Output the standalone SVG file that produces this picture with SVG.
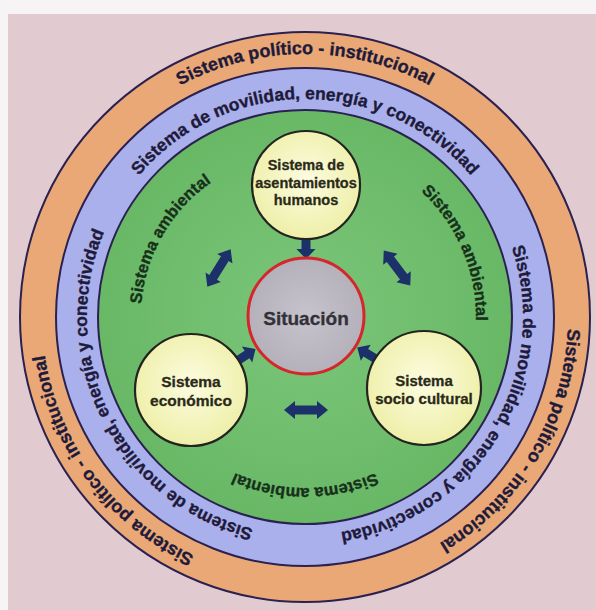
<svg xmlns="http://www.w3.org/2000/svg" width="596" height="610" viewBox="0 0 596 610">
<defs>
<style>
.ring{font-family:"Liberation Sans",Arial,sans-serif;font-weight:bold;fill:#1e1a3a;stroke:#1e1a3a;stroke-width:0.35}
.o{font-size:18px}
.b{font-size:17.5px}
.g{font-size:16.5px;fill:#17301a;stroke:#17301a}
.node{font-family:"Liberation Sans",Arial,sans-serif;font-weight:bold;fill:#2b2a18;stroke:#2b2a18;stroke-width:0.3;text-anchor:middle}
.arrow{fill:#1c306a}
.edge{stroke:#2a2150;stroke-width:2}
.yel{fill:url(#yel);stroke:#23231f;stroke-width:2.2}
</style>
<radialGradient id="yel" cx="50%" cy="45%" r="55%"><stop offset="0" stop-color="#fcfce0"/><stop offset="1" stop-color="#eeefa8"/></radialGradient>
<radialGradient id="grn" cx="50%" cy="50%" r="50%"><stop offset="0" stop-color="#7cc67a"/><stop offset="1" stop-color="#68b866"/></radialGradient>
<radialGradient id="gry" cx="50%" cy="50%" r="50%"><stop offset="0" stop-color="#c6c3cc"/><stop offset="1" stop-color="#b4b1bb"/></radialGradient>
<path id="pO" d="M305,580 A263,263 0 1 1 305,54 A263,263 0 1 1 305,580"/>
<path id="pB" d="M305,535 A218,218 0 1 1 305,99 A218,218 0 1 1 305,535"/>
<path id="pG" d="M305,153 A164,164 0 1 1 305,481 A164,164 0 1 1 305,153"/>
<path id="pG2" d="M305,146 A171,171 0 1 1 305,488 A171,171 0 1 1 305,146"/>
<path id="dbl" d="M-22,0 L-11,-9 L-11,-4.5 L11,-4.5 L11,-9 L22,0 L11,9 L11,4.5 L-11,4.5 L-11,9 Z"/>
<path id="sgl" d="M0,-4.5 L12,-4.5 L12,-9.5 L22,0 L12,9.5 L12,4.5 L0,4.5 Z"/>
</defs>
<rect x="0" y="0" width="596" height="610" fill="#f6f4f5"/>
<rect x="8" y="14" width="588" height="596" fill="#e1cbd1"/>
<g id="rings">
<circle class="edge" cx="305" cy="317" r="285" fill="#eaa876"/>
<circle class="edge" cx="305" cy="317" r="249" fill="#aab0ec"/>
<circle class="edge" cx="305" cy="317" r="207" fill="url(#grn)"/>
</g>
<g id="ring-labels" class="ring">
<text class="o" text-anchor="middle"><textPath href="#pO" startOffset="50%">Sistema político - institucional</textPath></text>
<text class="o" text-anchor="middle"><textPath href="#pO" startOffset="83.6%">Sistema político - institucional</textPath></text>
<text class="o" text-anchor="middle"><textPath href="#pO" startOffset="14.8%">Sistema político - institucional</textPath></text>
<text class="b" text-anchor="middle"><textPath href="#pB" startOffset="50%">Sistema de movilidad, energía y conectividad</textPath></text>
<text class="b" text-anchor="middle"><textPath href="#pB" startOffset="83.6%">Sistema de movilidad, energía y conectividad</textPath></text>
<text class="b" text-anchor="middle"><textPath href="#pB" startOffset="17.6%">Sistema de movilidad, energía y conectividad</textPath></text>
<text class="g" text-anchor="middle"><textPath href="#pG" startOffset="83.3%">Sistema ambiental</textPath></text>
<text class="g" text-anchor="middle"><textPath href="#pG2" startOffset="18.6%">Sistema ambiental</textPath></text>
<text class="g" text-anchor="middle"><textPath href="#pG2" startOffset="50%">Sistema ambiental</textPath></text>
</g>
<g id="connectors" class="arrow">
<use href="#sgl" transform="translate(306,237) rotate(90)"/>
<use href="#sgl" transform="translate(237,361) rotate(-32.8)"/>
<use href="#sgl" transform="translate(376,359) rotate(-148.6)"/>
<use href="#dbl" transform="translate(219,268) rotate(-58)"/>
<use href="#dbl" transform="translate(397,268) rotate(53)"/>
<use href="#dbl" transform="translate(306,410)"/>
</g>
<g id="situacion">
<circle cx="306" cy="316" r="58" fill="url(#gry)" stroke="#d6262c" stroke-width="3"/>
<text class="node" x="306" y="325" font-size="19" style="fill:#333038;stroke:#333038">Situación</text>
</g>
<g id="asentamientos">
<circle class="yel" cx="306" cy="185" r="54"/>
<text class="node" x="306" y="170" font-size="14.5">Sistema de</text>
<text class="node" x="306" y="188" font-size="14.5">asentamientos</text>
<text class="node" x="306" y="205" font-size="14.5">humanos</text>
</g>
<g id="economico">
<circle class="yel" cx="191" cy="390" r="56"/>
<text class="node" x="191" y="387" font-size="15.5">Sistema</text>
<text class="node" x="191" y="406" font-size="15.5">económico</text>
</g>
<g id="sociocultural">
<circle class="yel" cx="424" cy="388" r="57"/>
<text class="node" x="424" y="386" font-size="15">Sistema</text>
<text class="node" x="424" y="404" font-size="15">socio cultural</text>
</g>
</svg>
